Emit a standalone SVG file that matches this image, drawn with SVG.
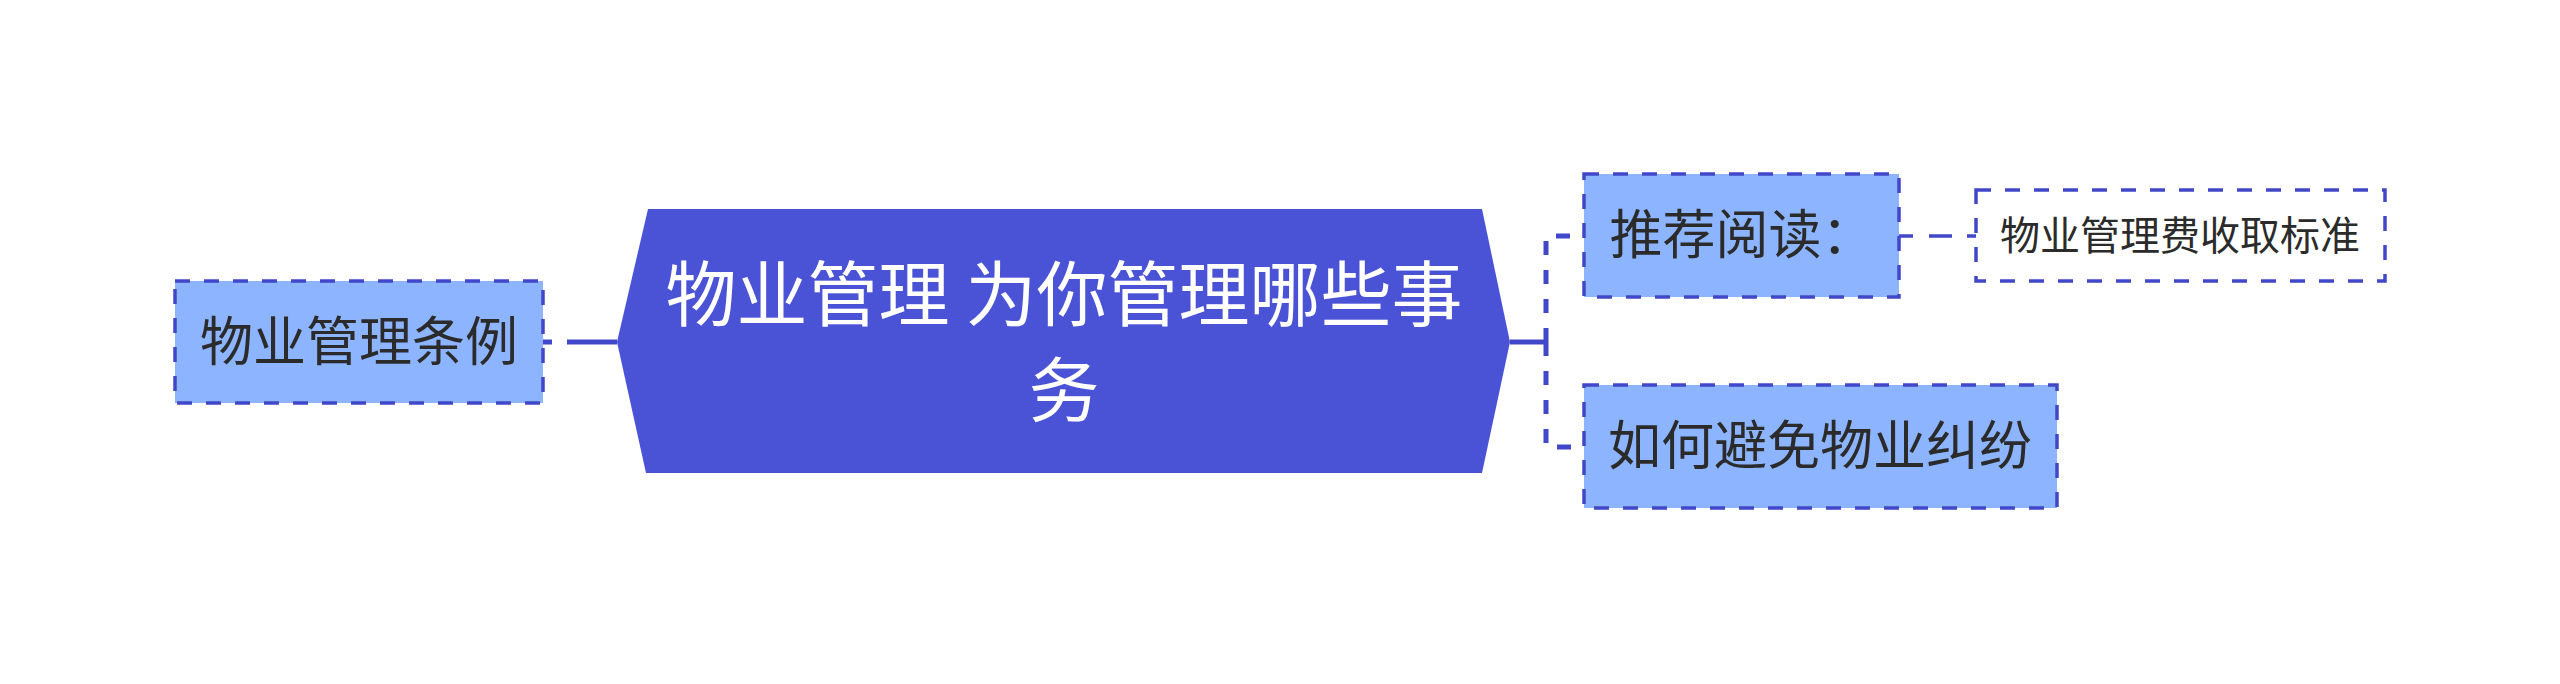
<svg xmlns="http://www.w3.org/2000/svg" width="2560" height="684" viewBox="0 0 2560 684">
<style>
.bg{fill:#ffffff}
.node{fill:#8cb4ff;stroke:#4047c8;stroke-width:3.5;stroke-dasharray:15 14}
.leaf{fill:#ffffff;stroke:#4047c8;stroke-width:3.5;stroke-dasharray:15 14}
.hex{fill:#4a52d6}
.t{font-family:"Noto Sans CJK SC","Noto Sans",sans-serif;fill:#2b2b2b;text-anchor:middle}
.tc{font-family:"Noto Sans CJK SC","Noto Sans",sans-serif;fill:#ffffff;text-anchor:middle;font-size:71px}
.c{fill:none;stroke:#4047c8;stroke-width:5}
</style>
<rect class="bg" x="0" y="0" width="2560" height="684"/>
<g id="connectors">
<path class="c" d="M617,342 H543" stroke-dasharray="50 15 30"/>
<path class="c" d="M1510,342 H1546"/>
<path class="c" d="M1546,342 V236 H1584" stroke-dasharray="14 15"/>
<path class="c" d="M1546,342 V447 H1584" stroke-dasharray="14 15"/>
<path class="c" style="stroke-width:3.5" d="M1899,236 H1976" stroke-dasharray="14 16 23 15 9"/>
</g>
<g id="center">
<polygon class="hex" points="617,342 648,209 1482,209 1510,342 1482,473 646,473"/>
<text class="tc" x="1064" y="320">物业管理 为你管理哪些事</text>
<text class="tc" x="1064" y="416">务</text>
</g>
<g id="n-left">
<rect class="node" x="175" y="281" width="368" height="122"/>
<text class="t" x="359" y="361" font-size="53">物业管理条例</text>
</g>
<g id="n-read">
<rect class="node" x="1584" y="174" width="315" height="123"/>
<text class="t" x="1742" y="254" font-size="53">推荐阅读：</text>
</g>
<g id="n-avoid">
<rect class="node" x="1584" y="385" width="473" height="123"/>
<text class="t" x="1820" y="465" font-size="53">如何避免物业纠纷</text>
</g>
<g id="n-fee">
<rect class="leaf" x="1976" y="190" width="409" height="91"/>
<text class="t" x="2180" y="250" font-size="40">物业管理费收取标准</text>
</g>
</svg>
